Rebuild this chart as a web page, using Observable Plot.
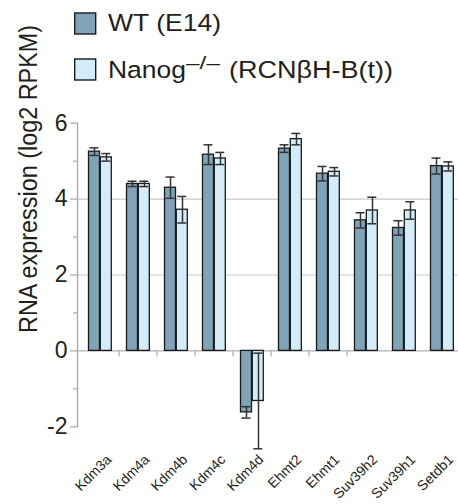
<!DOCTYPE html>
<html><head><meta charset="utf-8">
<script src="https://cdn.jsdelivr.net/npm/d3@7"></script>
<script src="https://cdn.jsdelivr.net/npm/@observablehq/plot@0.6"></script>
<style>
html,body{margin:0;padding:0;background:#fff;overflow:hidden}
#wrap{position:relative;width:458px;height:504px;overflow:hidden}
#legend{position:absolute;left:0;top:0}
</style></head><body><div id="wrap"></div>
<script>
const genes = ["Kdm3a","Kdm4a","Kdm4b","Kdm4c","Kdm4d","Ehmt2","Ehmt1","Suv39h2","Suv39h1","Setdb1"];
const seriesNames = ["WT (E14)", "Nanog", "–/–", "(RCNβH-B(t))"];
const wtMean = [5.25, 4.4, 4.3, 5.17, -1.62, 5.33, 4.67, 3.44, 3.24, 4.87];
const wtErr  = [0.1, 0.07, 0.28, 0.26, 0.15, 0.1, 0.19, 0.2, 0.19, 0.21];
const koMean = [5.1, 4.4, 3.72, 5.07, -1.32, 5.58, 4.72, 3.7, 3.7, 4.86];
const koErr  = [0.1, 0.07, 0.35, 0.16, 1.26, 0.15, 0.11, 0.35, 0.23, 0.12];
const yTicks = [-2, 0, 2, 4, 6];
const yMinorTicks = [-1, 1, 3, 5];
const gridValues = [2, 4];
const separatorGenes = genes.slice(1, 8);
const yLabel = "RNA expression (log2 RPKM)";

const wt = genes.map((g, i) => ({gene: g, v: wtMean[i], e: wtErr[i]}));
const ko = genes.map((g, i) => ({gene: g, v: koMean[i], e: koErr[i]}));

const ink = "#231f20", axisGray = "#a8a8a8", errInk = "#333333";
const wtFill = "#7fa3b7", koFill = "#d3ecfa";
const font = "'Liberation Sans', Arial, Helvetica, sans-serif";

const chart = Plot.plot({
  width: 458, height: 504,
  marginLeft: 77, marginRight: -7.5, marginTop: 122.7, marginBottom: 77.7,
  x: {domain: genes, padding: 0, axis: null},
  y: {domain: [-2, 6]},
  style: {fontFamily: font, background: "white", color: ink, overflow: "visible"},
  marks: [
    Plot.ruleY(gridValues, {stroke: "#c9c9c9", strokeWidth: 1.2}),
    Plot.ruleY([0], {stroke: "#b0b0b0", strokeWidth: 1.3}),
    Plot.ruleX(separatorGenes, {x: d => d, y1: 0, y2: 0, insetBottom: -6, dx: -19.4, stroke: "#b0b0b0", strokeWidth: 1.3}),
    Plot.frame({anchor: "left", stroke: axisGray, strokeWidth: 1.3}),
    Plot.barY(wt, {x: "gene", y: "v", fill: wtFill, stroke: "#1a1a1a", strokeWidth: 1.3, insetLeft: 7.5, insetRight: 19.5}),
    Plot.barY(ko, {x: "gene", y: "v", fill: koFill, stroke: "#1a1a1a", strokeWidth: 1.3, insetLeft: 19.3, insetRight: 7.7}),
    Plot.ruleX(wt, {x: "gene", y1: d => d.v - d.e, y2: d => d.v + d.e, dx: -6, stroke: errInk, strokeWidth: 1.5}),
    Plot.tickY(wt, {x: "gene", y: d => d.v - d.e, insetLeft: 8.5, insetRight: 20.5, stroke: errInk, strokeWidth: 1.5}),
    Plot.tickY(wt, {x: "gene", y: d => d.v + d.e, insetLeft: 8.5, insetRight: 20.5, stroke: errInk, strokeWidth: 1.5}),
    Plot.ruleX(ko, {x: "gene", y1: d => d.v - d.e, y2: d => d.v + d.e, dx: 6, stroke: errInk, strokeWidth: 1.5}),
    Plot.tickY(ko, {x: "gene", y: d => d.v - d.e, insetLeft: 20.3, insetRight: 8.7, stroke: errInk, strokeWidth: 1.5}),
    Plot.tickY(ko, {x: "gene", y: d => d.v + d.e, insetLeft: 20.3, insetRight: 8.7, stroke: errInk, strokeWidth: 1.5}),
    Plot.axisY(yTicks, {tickSize: 7, tickPadding: 3, fontSize: 23, stroke: axisGray, strokeWidth: 1.2, tickFormat: d => String(d), label: null, fill: ink}),
    Plot.axisY(yMinorTicks, {tickSize: 4, stroke: axisGray, strokeWidth: 1.2, tickFormat: () => "", label: null}),
    Plot.text(genes, {x: d => d, frameAnchor: "bottom", text: d => d, rotate: -45, textAnchor: "end", lineAnchor: "middle", dx: 8.5, dy: 30.5, fontSize: 14, fill: ink}),
    Plot.text([yLabel], {frameAnchor: "left", text: d => d, rotate: -90, textAnchor: "middle", lineAnchor: "bottom", dx: -40.3, dy: -96, fontSize: 25, fill: ink, className: "ylab"})
  ]
});

const wrap = document.getElementById("wrap");
wrap.appendChild(chart);
chart.querySelectorAll(".ylab text").forEach(t => { t.setAttribute("textLength", 308); t.setAttribute("lengthAdjust", "spacingAndGlyphs"); });

const ns = "http://www.w3.org/2000/svg";
const leg = document.createElementNS(ns, "svg");
leg.setAttribute("id", "legend");
leg.setAttribute("width", 458);
leg.setAttribute("height", 100);
leg.style.fontFamily = font;
leg.innerHTML = `
  <rect x="74.7" y="13" width="21" height="21" fill="${wtFill}" stroke="#1a1a1a" stroke-width="1.4"/>
  <rect x="74.7" y="59" width="21" height="21" fill="${koFill}" stroke="#1a1a1a" stroke-width="1.4"/>
  <text x="108" y="30.7" font-size="24.5" fill="${ink}" textLength="113" lengthAdjust="spacingAndGlyphs">${seriesNames[0]}</text>
  <text x="108" y="78.3" font-size="24.5" fill="${ink}" textLength="78" lengthAdjust="spacingAndGlyphs">${seriesNames[1]}</text>
  <text x="186" y="69" font-size="18" fill="${ink}" textLength="34" lengthAdjust="spacingAndGlyphs">${seriesNames[2]}</text>
  <text x="229" y="78.3" font-size="24.5" fill="${ink}" textLength="164" lengthAdjust="spacingAndGlyphs">${seriesNames[3]}</text>
`;
wrap.appendChild(leg);
</script>
</body></html>
